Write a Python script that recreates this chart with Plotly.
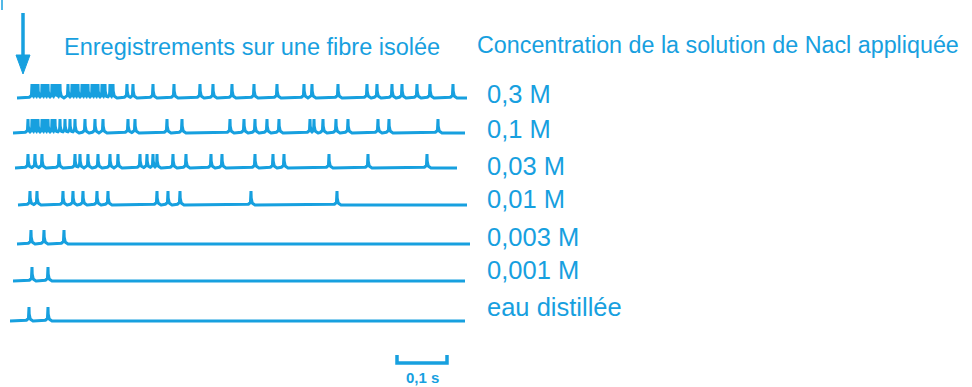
import numpy as np
import plotly.graph_objects as go

# ---- data: spike times (s) recorded on one isolated fibre, per NaCl concentration ----
concentrations = ["0,3 M", "0,1 M", "0,03 M", "0,01 M", "0,003 M", "0,001 M", "eau distillée"]

spikes_0_3 = [0.044, 0.050, 0.056, 0.064, 0.070, 0.076, 0.084, 0.090, 0.094, 0.100,
              0.116, 0.124, 0.130, 0.136, 0.144, 0.150, 0.156, 0.164, 0.170, 0.176,
              0.184, 0.190, 0.200, 0.206, 0.234, 0.246, 0.286, 0.328, 0.380, 0.406,
              0.444, 0.488, 0.534, 0.588, 0.604, 0.656, 0.714, 0.734, 0.764, 0.784,
              0.814, 0.840, 0.886]
spikes_0_1 = [0.036, 0.044, 0.050, 0.056, 0.064, 0.070, 0.076, 0.084, 0.090, 0.100,
              0.110, 0.120, 0.130, 0.150, 0.170, 0.186, 0.236, 0.250, 0.314, 0.344,
              0.440, 0.468, 0.490, 0.514, 0.538, 0.600, 0.608, 0.626, 0.652, 0.676,
              0.736, 0.758, 0.856]
spikes_0_03 = [0.036, 0.050, 0.064, 0.098, 0.130, 0.140, 0.156, 0.176, 0.200, 0.216,
               0.260, 0.274, 0.286, 0.294, 0.326, 0.352, 0.402, 0.424, 0.490, 0.526,
               0.548, 0.638, 0.716, 0.834]
spikes_0_01 = [0.040, 0.054, 0.106, 0.126, 0.146, 0.174, 0.196, 0.294, 0.316, 0.340,
               0.482, 0.654]
spikes_0_003 = [0.042, 0.068, 0.108]
spikes_0_001 = [0.044, 0.076]
spikes_eau = [0.038, 0.076]

all_spikes = [spikes_0_3, spikes_0_1, spikes_0_03, spikes_0_01,
              spikes_0_003, spikes_0_001, spikes_eau]

record_start = [0.014, 0.006, 0.010, 0.016, 0.014, 0.006, 0.000]
record_end = [0.914, 0.910, 0.894, 0.914, 0.920, 0.910, 0.910]

scale_bar_s = 0.1

# ---- layout / style ----
W, H = 972, 387
PX_PER_S = 500.0
T0_PX = 10.0
BLUE = "#17a0df"
FONT = "Liberation Sans, Arial, sans-serif"

row_baseline = [98, 133, 168, 205, 244, 281, 321]
row_label_y = [94, 129, 166, 199, 237, 270, 307]
SPIKE_H = 14.0

# action-potential template (time offset in s, relative height)
tmpl_t = np.array([-0.008, -0.004, -0.0012, -0.0004, 0.0, 0.0004, 0.0012, 0.004, 0.008])
tmpl_v = np.array([0.0, 0.08, 0.18, 0.5, 1.0, 0.5, 0.18, 0.08, 0.0])


def px_to_t(px):
    return (px - T0_PX) / PX_PER_S


def trace_xy(spikes, t0, t1):
    grid = [np.arange(t0, t1, 0.0005)]
    for s in spikes:
        grid.append(s + tmpl_t)
    t = np.unique(np.concatenate(grid + [np.array([t0, t1])]))
    t = t[(t >= t0) & (t <= t1)]
    v = np.zeros_like(t)
    for s in spikes:
        v = np.maximum(v, np.interp(t - s, tmpl_t, tmpl_v, left=0.0, right=0.0))
    return t, v


fig = go.Figure()

for spikes, t0, t1, base in zip(all_spikes, record_start, record_end, row_baseline):
    t, v = trace_xy(spikes, t0, t1)
    fig.add_trace(go.Scatter(
        x=t, y=base - SPIKE_H * v, mode="lines",
        line=dict(color=BLUE, width=3), hoverinfo="skip", showlegend=False,
    ))

# 0,1 s scale bar
sb_x0 = px_to_t(397)
sb_y, sb_tick = 363, 355
fig.add_trace(go.Scatter(
    x=[sb_x0, sb_x0, sb_x0 + scale_bar_s, sb_x0 + scale_bar_s],
    y=[sb_tick, sb_y, sb_y, sb_tick], mode="lines",
    line=dict(color=BLUE, width=3.5), hoverinfo="skip", showlegend=False,
))

annotations = []
for lab, ly in zip(concentrations, row_label_y):
    annotations.append(dict(
        x=485 / W, xref="paper", y=ly, yref="y", text=lab, showarrow=False,
        xanchor="left", yanchor="middle", font=dict(family=FONT, size=25.5, color=BLUE),
    ))

annotations += [
    dict(x=62 / W, xref="paper", y=47, yref="y",
         text="Enregistrements sur une fibre isolée", showarrow=False,
         xanchor="left", yanchor="middle", font=dict(family=FONT, size=23.5, color=BLUE)),
    dict(x=475 / W, xref="paper", y=45, yref="y",
         text="Concentration de la solution de Nacl appliquée", showarrow=False,
         xanchor="left", yanchor="middle", font=dict(family=FONT, size=23.3, color=BLUE)),
    dict(x=sb_x0 + scale_bar_s / 2, xref="x", y=377, yref="y",
         text="<b>0,1 s</b>", showarrow=False, xanchor="center", yanchor="middle",
         font=dict(family=FONT, size=15, color=BLUE)),
]


def px(x, y):
    return x / W, 1 - y / H


# stimulus arrow
ax0, ay0 = px(23, 13)
ax1, ay1 = px(23, 58)
hl, hr, tip = px(16, 55), px(30, 55), px(23, 74)
mk0, mk1 = px(2, 0), px(2, 10)
shapes = [
    dict(type="line", xref="paper", yref="paper", x0=ax0, y0=ay0, x1=ax1, y1=ay1,
         line=dict(color=BLUE, width=3.5)),
    dict(type="path", xref="paper", yref="paper",
         path=f"M {hl[0]} {hl[1]} L {hr[0]} {hr[1]} L {tip[0]} {tip[1]} Z",
         fillcolor=BLUE, line=dict(color=BLUE, width=1)),
    dict(type="line", xref="paper", yref="paper", x0=mk0[0], y0=mk0[1], x1=mk1[0], y1=mk1[1],
         line=dict(color=BLUE, width=1.5)),
]

fig.update_layout(
    width=W, height=H, margin=dict(l=0, r=0, t=0, b=0),
    paper_bgcolor="white", plot_bgcolor="white",
    xaxis=dict(range=[px_to_t(0), px_to_t(W)], visible=False, fixedrange=True),
    yaxis=dict(range=[H, 0], visible=False, fixedrange=True),
    annotations=annotations, shapes=shapes,
)

fig.write_html("out.html")
